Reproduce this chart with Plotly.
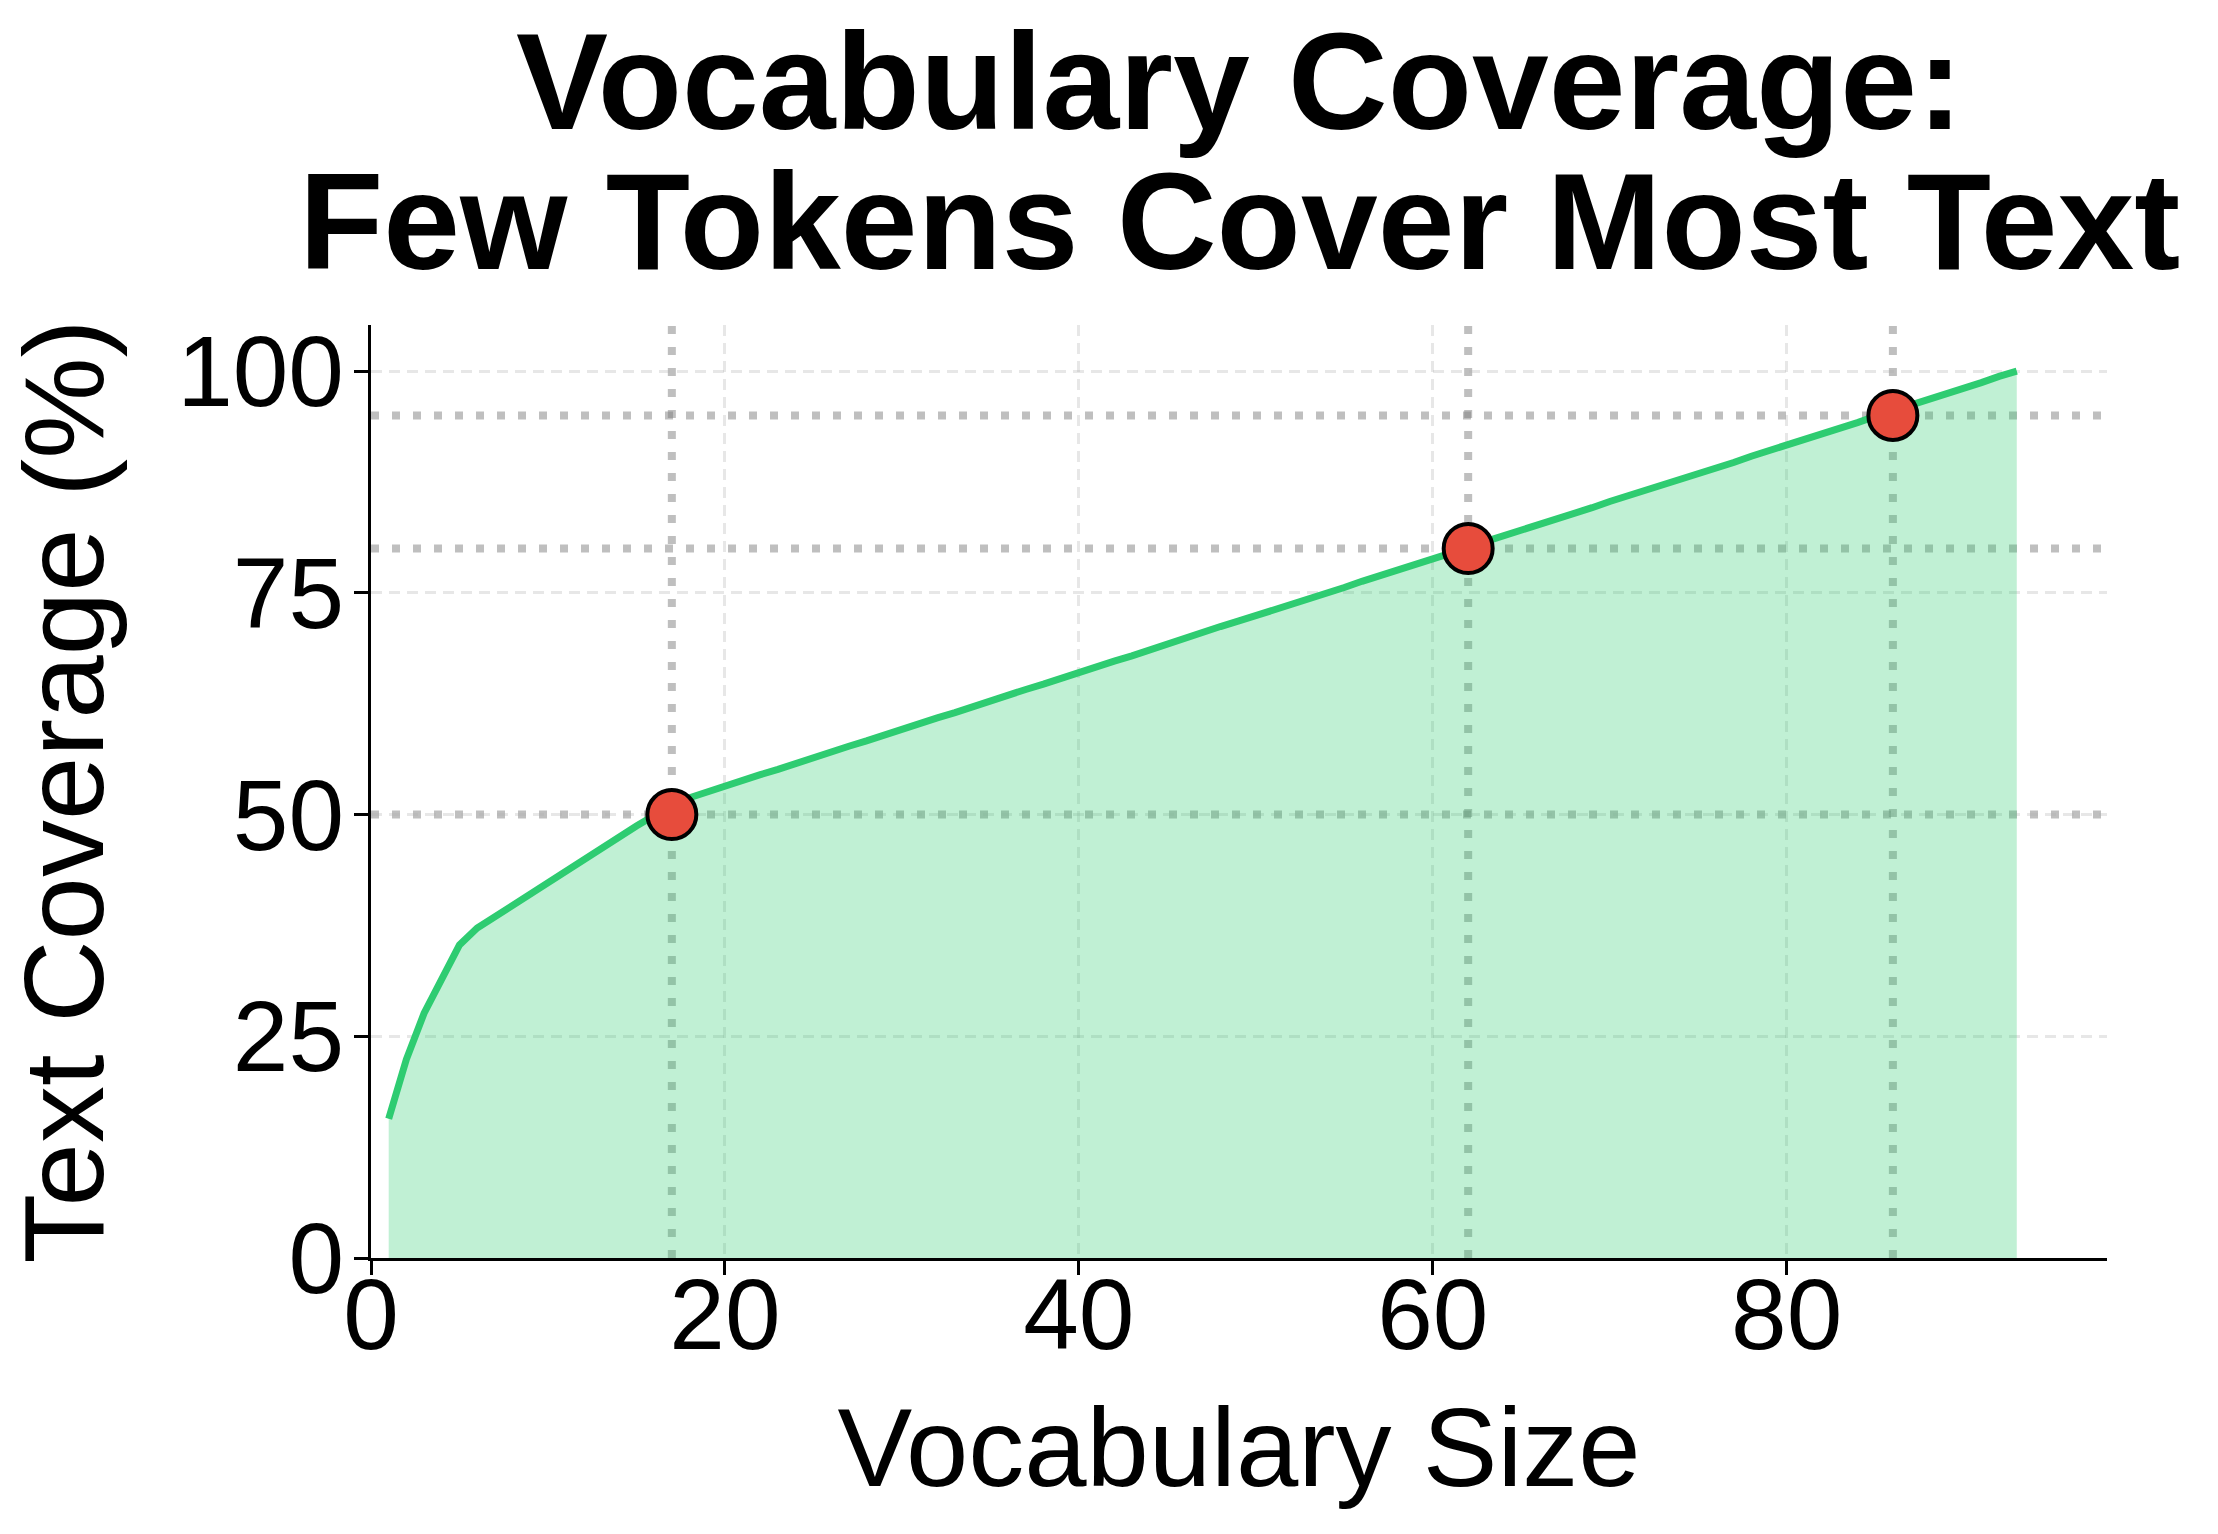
import plotly.graph_objects as go

# vocabulary rank (1 = most frequent token) and cumulative text coverage in %
vocab_size = list(range(1, 94))
coverage = [
    15.7, 22.4, 27.6, 31.4, 35.3, 37.2, 38.5, 39.7, 41.0, 42.3,
    43.6, 44.9, 46.2, 47.4, 48.7, 49.9, 51.3, 51.9, 52.6, 53.2,
    53.8, 54.5, 55.1, 55.8, 56.4, 57.1, 57.7, 58.3, 59.0, 59.6,
    60.3, 60.9, 61.5, 62.2, 62.8, 63.5, 64.1, 64.7, 65.4, 66.0,
    66.7, 67.3, 67.9, 68.6, 69.2, 69.9, 70.5, 71.2, 71.8, 72.4,
    73.1, 73.7, 74.4, 75.0, 75.6, 76.3, 76.9, 77.6, 78.2, 78.8,
    79.5, 80.1, 80.8, 81.4, 82.1, 82.7, 83.3, 84.0, 84.6, 85.3,
    85.9, 86.5, 87.2, 87.8, 88.5, 89.1, 89.7, 90.4, 91.0, 91.7,
    92.3, 92.9, 93.6, 94.2, 94.9, 95.5, 96.2, 96.8, 97.4, 98.1,
    98.7, 99.4, 100.0,
]

# coverage thresholds and the vocabulary size needed to reach them
threshold_size = [17, 62, 86]
threshold_pct = [50, 80, 95]

x_ticks = [0, 20, 40, 60, 80]
y_ticks = [0, 25, 50, 75, 100]

GREEN = "#2ecc71"
RED = "#e74c3c"
FONT = "Liberation Sans"

fig = go.Figure()

# shaded area under the curve
fig.add_trace(go.Scatter(
    x=vocab_size, y=coverage, mode="lines", fill="tozeroy",
    fillcolor="rgba(46,204,113,0.3)",
    line=dict(color="rgba(46,204,113,0.3)", width=2),
    hoverinfo="skip", showlegend=False,
))
# coverage curve
fig.add_trace(go.Scatter(
    x=vocab_size, y=coverage, mode="lines",
    line=dict(color=GREEN, width=7),
    showlegend=False,
))
# threshold markers
fig.add_trace(go.Scatter(
    x=threshold_size, y=threshold_pct, mode="markers",
    marker=dict(color=RED, size=49, line=dict(color="black", width=4)),
    showlegend=False,
))

# dotted guide lines at each threshold
for sx, py in zip(threshold_size, threshold_pct):
    dotted = dict(color="rgba(128,128,128,0.5)", width=8, dash="8px,13px")
    fig.add_shape(type="line", xref="x", yref="paper", x0=sx, x1=sx, y0=0, y1=1,
                  line=dotted, layer="between")
    fig.add_shape(type="line", xref="paper", yref="y", x0=0, x1=1, y0=py, y1=py,
                  line=dotted, layer="between")

# two-line title, kept tight like the original
fig.add_annotation(text="<b>Vocabulary Coverage:</b>", xref="paper", yref="paper",
                   x=0.5, y=1.2616, xanchor="center", yanchor="middle",
                   showarrow=False, font=dict(family=FONT, size=138, color="black"))
fig.add_annotation(text="<b>Few Tokens Cover Most Text</b>", xref="paper", yref="paper",
                   x=0.5, y=1.111, xanchor="center", yanchor="middle",
                   showarrow=False, font=dict(family=FONT, size=138, color="black"))

axis_common = dict(
    showline=True, linecolor="black", linewidth=3,
    ticks="outside", ticklen=14, tickwidth=3, tickcolor="black",
    showgrid=True, gridcolor="rgba(176,176,176,0.3)", gridwidth=2.5, griddash="11px,7px",
    zeroline=False, tickfont=dict(family=FONT, size=100, color="black"),
)

fig.update_xaxes(
    range=[0, 98.1], tickvals=x_ticks, ticklabelstandoff=-46,
    title=dict(text="Vocabulary Size", font=dict(family=FONT, size=112, color="black"), standoff=39),
    **axis_common,
)
fig.update_yaxes(
    range=[0, 105.2], tickvals=y_ticks, ticklabelstandoff=-10,
    title=dict(text="Text Coverage (%)", font=dict(family=FONT, size=114, color="black"), standoff=48),
    **axis_common,
)

fig.update_layout(
    width=2218, height=1534,
    margin=dict(l=371, r=111, t=325, b=276, autoexpand=False),
    plot_bgcolor="white", paper_bgcolor="white",
    font=dict(family=FONT, color="black"),
)

fig.write_html("out.html", config={"displayModeBar": False},
               post_script="document.body.style.margin='0px';")
